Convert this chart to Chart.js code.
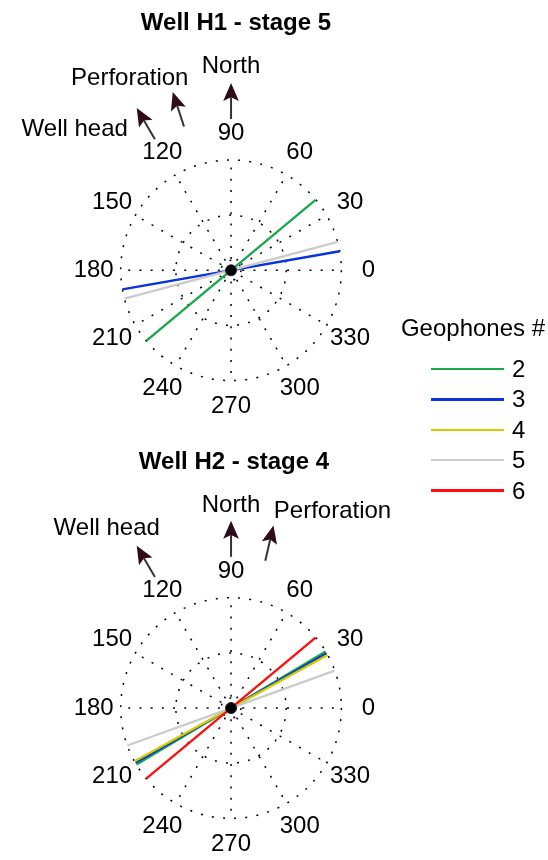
<!DOCTYPE html>
<html>
<head>
<meta charset="utf-8">
<script src="https://cdn.jsdelivr.net/npm/chart.js@4.4.0/dist/chart.umd.min.js"></script>
<style>
  html, body { margin: 0; padding: 0; background: #fff; }
  body { width: 548px; height: 860px; position: relative; overflow: hidden;
         font-family: "Liberation Sans", Arial, Helvetica, sans-serif; color: #000; }
  canvas { position: absolute; left: 0; }
  #h1 { top: 0; }
  #h2 { top: 430px; }
  #legend .title { position: absolute; left: 393px; width: 160px; text-align: center; font-size: 24px; line-height: 26px; }
  #legend .swatch { position: absolute; left: 431px; width: 73px; height: 2.5px; }
  #legend .lab { position: absolute; left: 512px; font-size: 24px; line-height: 26px; }
</style>
</head>
<body>
<canvas id="h1" width="548" height="430"></canvas>
<canvas id="h2" width="548" height="430"></canvas>
<div id="legend"></div>
<script>
const geophones = ['2', '3', '4', '5', '6'];
const lineColors = ['#17a84b', '#0b33dc', '#d8c900', '#cbcbcb', '#ff0d0d'];
// polarisation azimuth per geophone, degrees from East, counter-clockwise (null = not plotted)
const h1Azimuths = [40, 10, null, 15, null];
const h2Azimuths = [31, 30, 29, 20, 40];
const angleTicks = [0, 30, 60, 90, 120, 150, 180, 210, 240, 270, 300, 330];
const rings = [0.09, 0.5, 1];
const markerNames = ['North', 'Perforation', 'Well head'];
const h1MarkerAzimuths = [90, 108, 120];
const h2MarkerAzimuths = [90, 77, 120];

const R_PX = 113;   // outer ring radius in px
const CX = 230;
const rad = d => d * Math.PI / 180;

function drawArrow(ctx, x0, y0, x1, y1) {
  const ang = Math.atan2(y1 - y0, x1 - x0);
  const len = 18, half = 7.8;
  ctx.strokeStyle = '#333';
  ctx.lineWidth = 2;
  ctx.setLineDash([]);
  ctx.beginPath();
  ctx.moveTo(x0, y0);
  ctx.lineTo(x1 - Math.cos(ang) * len * 0.8, y1 - Math.sin(ang) * len * 0.8);
  ctx.stroke();
  ctx.save();
  ctx.translate(x1, y1);
  ctx.rotate(ang);
  ctx.fillStyle = '#2e0c1a';
  ctx.beginPath();
  ctx.moveTo(0, 0);
  ctx.lineTo(-len, -half);
  ctx.lineTo(-len * 0.8, 0);
  ctx.lineTo(-len, half);
  ctx.closePath();
  ctx.fill();
  ctx.restore();
}

const polarFrame = {
  id: 'polarFrame',
  beforeDatasetsDraw(chart) {
    const {ctx, scales: {x, y}} = chart;
    const cx = x.getPixelForValue(0), cy = y.getPixelForValue(0);
    const R = x.getPixelForValue(1) - cx;
    ctx.save();
    ctx.strokeStyle = '#000';
    ctx.lineWidth = 1.5;
    ctx.setLineDash([2, 9.2]);
    rings.forEach(r => {
      ctx.beginPath();
      ctx.arc(cx, cy, r * R, 0, Math.PI * 2);
      ctx.stroke();
    });
    angleTicks.forEach(a => {
      ctx.beginPath();
      ctx.moveTo(cx, cy);
      ctx.lineTo(x.getPixelForValue(Math.cos(rad(a))), y.getPixelForValue(Math.sin(rad(a))));
      ctx.stroke();
    });
    ctx.restore();
  },
  afterDraw(chart, args, opts) {
    const {ctx, scales: {x, y}} = chart;
    const pt = (r, a) => [x.getPixelForValue(r * Math.cos(rad(a))), y.getPixelForValue(r * Math.sin(rad(a)))];
    ctx.save();
    ctx.fillStyle = '#000';
    ctx.textAlign = 'center';
    ctx.textBaseline = 'middle';
    ctx.font = '24px "Liberation Sans", Arial, sans-serif';
    angleTicks.forEach(a => {
      const [px, py] = pt(1.245, a);
      ctx.fillText(String(a), px, py);
    });
    opts.markers.forEach((a, i) => {
      const [x0, y0] = pt(1.38, a);
      const [x1, y1] = pt(1.71, a);
      drawArrow(ctx, x0, y0, x1, y1);
      const off = opts.labelOffsets[i];
      ctx.fillStyle = '#000';
      ctx.fillText(markerNames[i], x1 + off[0], y1 + off[1]);
    });
    ctx.font = 'bold 24px "Liberation Sans", Arial, sans-serif';
    ctx.fillText(opts.title, opts.titleX, opts.titleY);
    ctx.restore();
  }
};

function makeChart(id, azimuths, markers, labelOffsets, title, titleX, titleY, cy, h) {
  const datasets = [];
  azimuths.forEach((a, i) => {
    if (a === null) return;
    const c = Math.cos(rad(a)), s = Math.sin(rad(a));
    datasets.push({
      label: geophones[i],
      data: [{x: c, y: s}, {x: -c, y: -s}],
      showLine: true,
      borderColor: lineColors[i],
      borderWidth: 2.3,
      pointRadius: 0,
      order: -i
    });
  });
  datasets.push({
    label: 'origin',
    data: [{x: 0, y: 0}],
    pointRadius: 5.5,
    backgroundColor: '#000',
    borderColor: '#222',
    borderWidth: 1,
    order: -20
  });
  return new Chart(document.getElementById(id), {
    type: 'scatter',
    data: {datasets},
    options: {
      responsive: false,
      animation: false,
      layout: {padding: 0},
      scales: {
        x: {type: 'linear', display: false, min: -CX / R_PX, max: (548 - CX) / R_PX},
        y: {type: 'linear', display: false, min: -(h - cy) / R_PX, max: cy / R_PX}
      },
      plugins: {
        legend: {display: false},
        tooltip: {enabled: false},
        polarFrame: {markers, labelOffsets, title, titleX, titleY}
      }
    },
    plugins: [polarFrame]
  });
}

makeChart('h1', h1Azimuths, h1MarkerAzimuths, [[0, -17], [-43, -14], [-62, 21]],
  'Well H1 - stage 5', 236, 23, 272, 430);
makeChart('h2', h2Azimuths, h2MarkerAzimuths, [[0, -15], [59, -14], [-30, -17]],
  'Well H2 - stage 4', 234, 32, 280, 430);

// legend
const legend = document.getElementById('legend');
const t = document.createElement('div');
t.className = 'title';
t.style.top = (328 - 13) + 'px';
t.textContent = 'Geophones #';
legend.appendChild(t);
geophones.forEach((g, i) => {
  const yy = 369 + i * 30.4;
  const sw = document.createElement('div');
  sw.className = 'swatch';
  sw.style.top = (yy - 1.25) + 'px';
  sw.style.background = lineColors[i];
  legend.appendChild(sw);
  const lb = document.createElement('div');
  lb.className = 'lab';
  lb.style.top = (yy - 13) + 'px';
  lb.textContent = g;
  legend.appendChild(lb);
});
</script>
</body>
</html>
